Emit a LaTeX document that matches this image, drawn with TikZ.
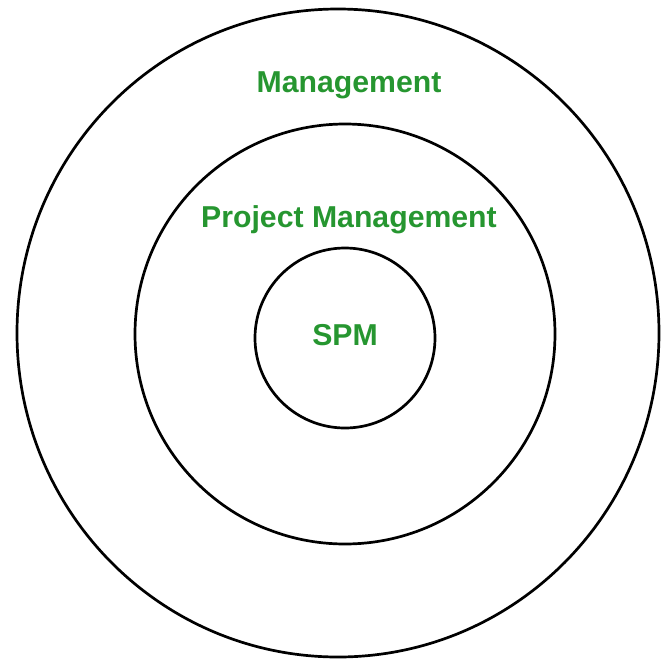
\documentclass[tikz,border=0pt]{standalone}
\usepackage{fontspec}
\setmainfont{Liberation Sans}
\usepackage{tikz}
\usetikzlibrary{positioning}
\definecolor{ringgreen}{RGB}{38,150,48}

\begin{document}
\begin{tikzpicture}[line cap=round,line join=round,x=0.03cm,y=-0.03cm,
  ring/.style={draw=black,line width=2.3pt},
  ringlabel/.style={text=ringgreen,font=\fontsize{25.8}{30}\selectfont\bfseries,inner sep=0pt,anchor=base}]
\useasboundingbox (0,0) rectangle (661,660);
\coordinate (c1) at (338,333);
\coordinate (c2) at (345,334);
\coordinate (c3) at (345,338);
% the three rings
\draw[ring] (c1) ellipse (321 and 324);
\draw[ring] (c2) ellipse (210 and 210);
\draw[ring] (c3) circle (90);
\node[ringlabel] (mgmt) at (349,92) {Management};
\node[ringlabel] (pm) at (349,227) {Project Management};
\node[ringlabel] (spm) at (345,345) {SPM};
\end{tikzpicture}
\end{document}
